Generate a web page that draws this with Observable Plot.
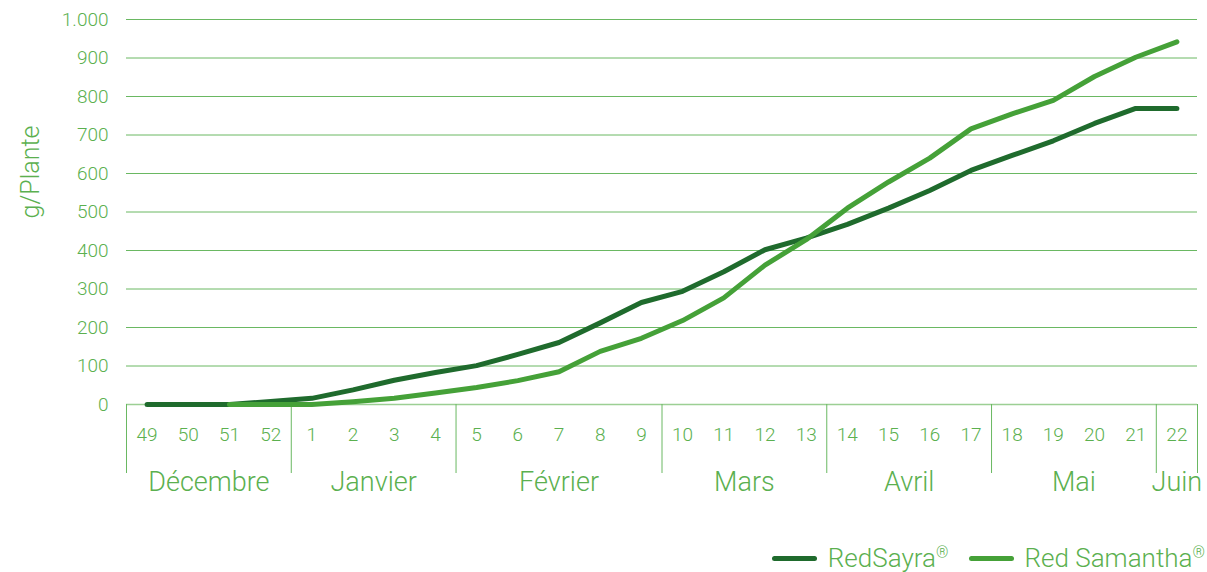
<!DOCTYPE html>
<html>
<head>
<meta charset="utf-8">
<script src="https://cdn.jsdelivr.net/npm/d3@7"></script>
<script src="https://cdn.jsdelivr.net/npm/@observablehq/plot@0.6"></script>
<style>
  html, body { margin: 0; padding: 0; background: #fff; }
  body { width: 1207px; height: 572px; overflow: hidden; font-family: Roboto, "Noto Sans", sans-serif; }
  #chart svg { display: block; }
  #chart svg text { font-weight: 300; }
  .legend { display: flex; justify-content: flex-end; align-items: center; padding-top: 44px; padding-right: 2px;
            font-family: Roboto, sans-serif; font-weight: 300; font-size: 26px; color: #5bb04f; line-height: 28px; height: 28px; }
  .legend .item { display: flex; align-items: center; margin-left: 20px; }
  .legend .sw { width: 45px; height: 5px; border-radius: 3px; margin-right: 11px; }
  .legend sup { font-size: 0.6em; vertical-align: 0.55em; line-height: 0; }
</style>
</head>
<body>
<div id="chart"></div>
<div class="legend" id="legend"></div>
<script>
const weeks = ["49","50","51","52","1","2","3","4","5","6","7","8","9","10","11","12","13","14","15","16","17","18","19","20","21","22"];
const redSayra    = [0,0,0,8,16,38,63,83,101,130,161,212,265,294,345,402,432,468,510,556,608,647,685,730,769,769];
const redSamantha = [null,null,0,0,0,7,16,30,44,62,85,138,172,218,277,362,428,510,578,640,716,755,790,852,902,942];
const yTicks = [0,100,200,300,400,500,600,700,800,900,1000];
const monthNames = ["Décembre","Janvier","Février","Mars","Avril","Mai","Juin"];
const monthFirst = ["49","1","5","10","14","18","22"];
const monthLast  = ["52","4","9","13","17","21","22"];
const seriesNames = ["RedSayra", "Red Samantha"];
const seriesColors = ["#1f6b2d", "#45a138"];

const textColor = "#5bb04f";
const gridColor = "#6ab862";
const fmt = d3.formatLocale({decimal: ",", thousands: ".", grouping: [3]}).format(",d");

const months = monthNames.map((name, k) => {
  const a = weeks.indexOf(monthFirst[k]), b = weeks.indexOf(monthLast[k]);
  return {name, a, b, center: (a + b) / 2};
});
const boundaries = [months[0].a - 0.5, ...months.map(m => m.b + 0.5)];

const chart = Plot.plot({
  width: 1207,
  height: 500,
  marginLeft: 126,
  marginRight: 10,
  marginTop: 19,
  marginBottom: 96,
  style: {fontFamily: "Roboto, sans-serif", fontSize: "19px", color: textColor, background: "#fff"},
  x: {domain: [-0.5, weeks.length - 0.5]},
  y: {domain: [0, 1000]},
  marks: [
    Plot.ruleY(yTicks.filter(d => d > 0), {stroke: gridColor, strokeWidth: 1}),
    Plot.ruleY([0], {stroke: "#9ccf94", strokeWidth: 1.5}),
    Plot.axisY({ticks: yTicks, tickSize: 0, tickPadding: 18, tickFormat: fmt, label: null, fill: textColor}),
    Plot.text(["g/Plante"], {frameAnchor: "left", textAnchor: "middle", rotate: -90, dx: -96, dy: -40, fontSize: 25, fill: textColor}),
    Plot.axisX({ticks: d3.range(weeks.length), tickFormat: i => weeks[i], tickSize: 0, tickPadding: 23, label: null, fill: textColor}),
    Plot.axisX({ticks: boundaries, tickSize: 69, tickFormat: () => "", label: null, stroke: gridColor}),
    Plot.text(months, {x: "center", y: () => 0, text: "name", dy: 78, fontSize: 27, fill: textColor}),
    Plot.lineY(redSayra, {x: (d, i) => i, y: d => d, stroke: seriesColors[0], strokeWidth: 5, strokeLinecap: "round", strokeLinejoin: "round"}),
    Plot.lineY(redSamantha, {x: (d, i) => i, y: d => d, stroke: seriesColors[1], strokeWidth: 5, strokeLinecap: "round", strokeLinejoin: "round"})
  ]
});
document.getElementById("chart").appendChild(chart);

const legend = document.getElementById("legend");
seriesNames.forEach((n, k) => {
  const item = document.createElement("div");
  item.className = "item";
  item.innerHTML = `<span class="sw" style="background:${seriesColors[k]}"></span><span>${n}<sup>®</sup></span>`;
  legend.appendChild(item);
});
</script>
</body>
</html>
